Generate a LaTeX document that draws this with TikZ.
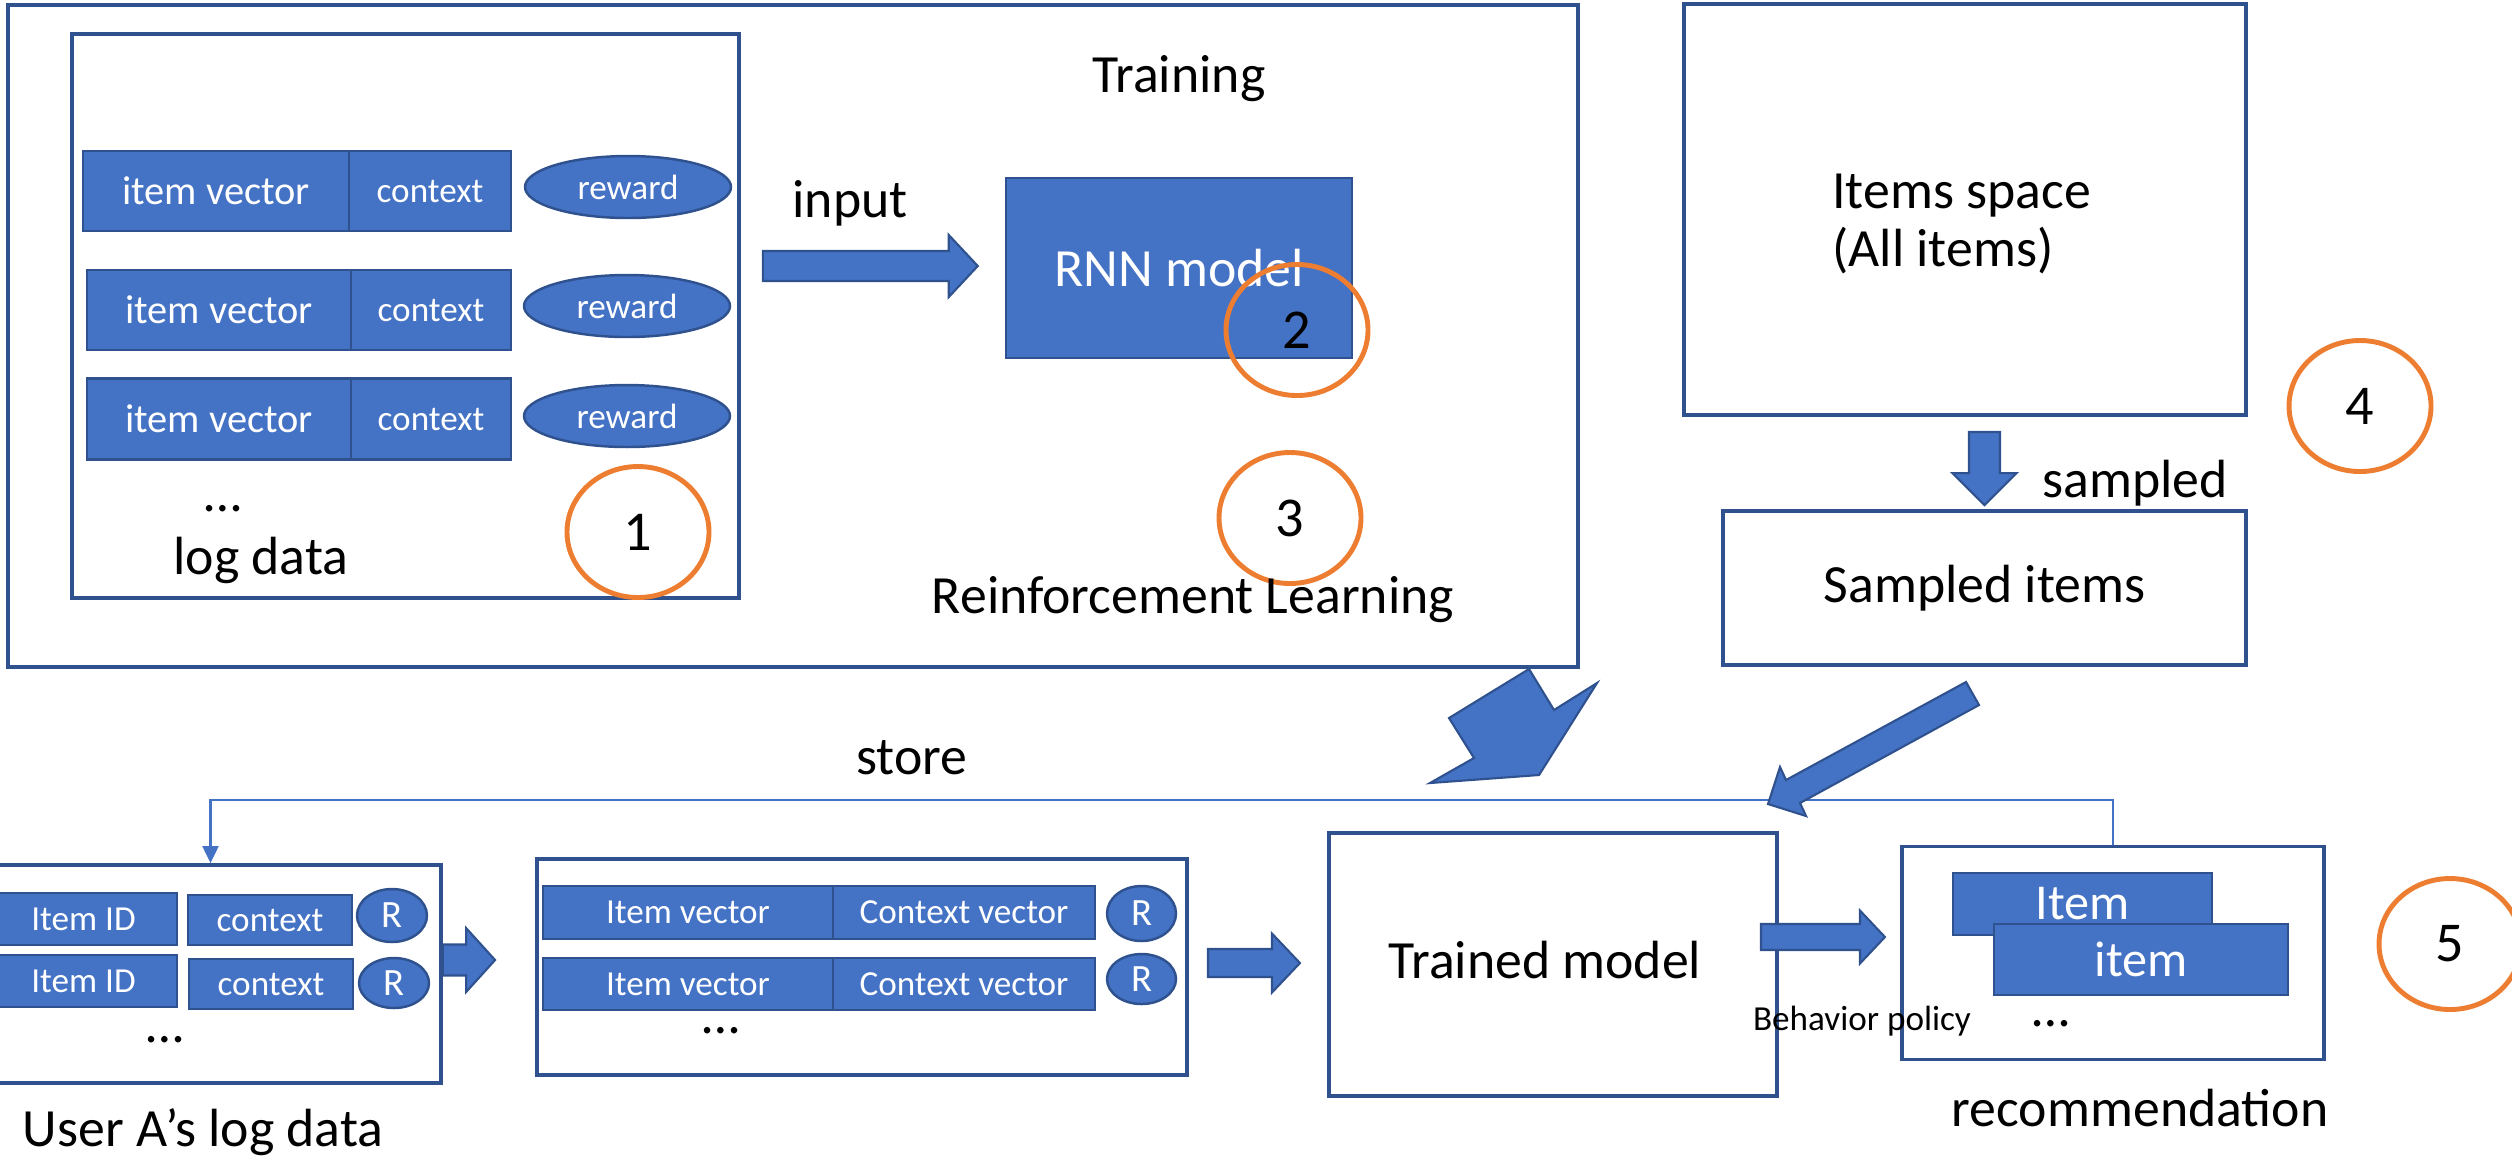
\documentclass[tikz,border=0pt]{standalone}
\usepackage{fontspec}
\setmainfont{Carlito}
\usetikzlibrary{shapes.geometric,calc,arrows.meta}

\definecolor{fillblue}{HTML}{4472C4}
\definecolor{edgeblue}{HTML}{2F528F}
\definecolor{ringorange}{HTML}{ED7D31}

\tikzset{
  frame/.style={draw=edgeblue, line width=1.1pt, inner sep=0pt},
  cell/.style={draw=edgeblue, fill=fillblue, text=white, line width=0.7pt, inner sep=0pt},
  oval/.style={ellipse, draw=edgeblue, fill=fillblue, text=white, line width=0.7pt, inner sep=0pt},
  ring/.style={ellipse, draw=ringorange, line width=1.4pt, minimum width=1.42cm, minimum height=1.31cm, inner sep=0pt, font=\fontsize{16}{18}\selectfont},
  blockarrow/.style={draw=edgeblue, fill=fillblue, line width=0.6pt, line join=miter},
  storeline/.style={draw=fillblue, line width=0.6pt},
  bigtext/.style={font=\fontsize{15.3}{16.5}\selectfont},
  smalltext/.style={font=\fontsize{10}{12}\selectfont},
  dotsnode/.style={font=\fontsize{15.3}{16.5}\selectfont, inner sep=0pt}
}

% fat arrow: from, to, body half width, head half width, head length
\newcommand{\blockarrow}[5]{%
  \coordinate (ba-s) at #1;
  \coordinate (ba-e) at #2;
  \coordinate (ba-h) at ($(ba-e)!#5!(ba-s)$);
  \filldraw[blockarrow] ($(ba-s)!#3!90:(ba-e)$) -- ($(ba-h)!#3!90:(ba-e)$) -- ($(ba-h)!#4!90:(ba-e)$) -- (ba-e)
    -- ($(ba-h)!#4!-90:(ba-e)$) -- ($(ba-h)!#3!-90:(ba-e)$) -- ($(ba-s)!#3!-90:(ba-e)$) -- cycle;}

\begin{document}
\begin{tikzpicture}[x=1cm,y=-1cm]
\useasboundingbox (0,0) rectangle (25.12,11.65);

% training
\node[frame, line width=1.4pt, minimum width=15.70cm, minimum height=6.62cm] (train) at (7.93,3.36) {};
\node[frame, minimum width=6.67cm, minimum height=5.64cm] (logbox) at (4.055,3.16) {};

\node[cell, minimum width=2.66cm, minimum height=0.80cm, font=\fontsize{11.5}{13}\selectfont] (iv1) at (2.16,1.91) {item vector};
\node[cell, minimum width=1.62cm, minimum height=0.80cm, smalltext] (ctx1) at (4.30,1.91) {context};
\node[oval, minimum width=2.06cm, minimum height=0.62cm, smalltext] (rw1) at (6.28,1.87) {reward};

\node[cell, minimum width=2.64cm, minimum height=0.80cm, font=\fontsize{11.5}{13}\selectfont] (iv2) at (2.19,3.10) {item vector};
\node[cell, minimum width=1.60cm, minimum height=0.80cm, smalltext] (ctx2) at (4.31,3.10) {context};
\node[oval, minimum width=2.06cm, minimum height=0.62cm, smalltext] (rw2) at (6.27,3.06) {reward};

\node[cell, minimum width=2.64cm, minimum height=0.81cm, font=\fontsize{11.5}{13}\selectfont] (iv3) at (2.19,4.19) {item vector};
\node[cell, minimum width=1.60cm, minimum height=0.81cm, smalltext] (ctx3) at (4.31,4.19) {context};
\node[oval, minimum width=2.06cm, minimum height=0.62cm, smalltext] (rw3) at (6.27,4.16) {reward};

\node[dotsnode] (dots1) at (2.23,5.09) {…};
\node[bigtext] (logtext) at (2.61,5.60) {log data};
\node[ring] (n1) at (6.38,5.32) {1};

\node[bigtext] (inputtext) at (8.50,2.03) {input};
\node[bigtext] (traintext) at (11.79,0.79) {Training};

\node[cell, minimum width=3.46cm, minimum height=1.80cm, bigtext] (rnn) at (11.79,2.68) {RNN model};
\node[ring] (n2) at (12.97,3.30) {2};
\node[ring] (n3) at (12.90,5.18) {3};
\node[bigtext] (rltext) at (11.93,6.00) {Reinforcement Learning};

\blockarrow{($(logbox.east |- rnn.west)+(0.22,-0.02)$)}{($(rnn.west)+(-0.27,-0.02)$)}{0.15cm}{0.31cm}{0.29cm}

% items
\node[frame, minimum width=5.62cm, minimum height=4.11cm] (items) at (19.65,2.095) {};
\node[bigtext, align=left, anchor=west] (itemstext) at (18.20,2.24) {Items space\\(All items)};
\node[ring] (n4) at (23.60,4.06) {4};

\node[frame, minimum width=5.23cm, minimum height=1.54cm, bigtext] (sampled) at (19.845,5.88) {Sampled items};
\blockarrow{($(sampled.north |- items.south)+(0,0.15)$)}{($(sampled.north)+(0,-0.04)$)}{0.155cm}{0.32cm}{0.32cm}
\node[bigtext] (sampledtext) at (21.35,4.83) {sampled};

% user log
\node[frame, minimum width=4.61cm, minimum height=2.18cm] (ulog) at (2.105,9.74) {};
\node[cell, minimum width=1.87cm, minimum height=0.52cm, smalltext] (id1) at (0.835,9.19) {Item ID};
\node[cell, minimum width=1.64cm, minimum height=0.50cm, smalltext] (uc1) at (2.70,9.20) {context};
\node[oval, minimum width=0.70cm, minimum height=0.53cm, font=\fontsize{11}{13}\selectfont] (r1) at (3.92,9.155) {R};
\node[cell, minimum width=1.87cm, minimum height=0.52cm, smalltext] (id2) at (0.835,9.81) {Item ID};
\node[cell, minimum width=1.64cm, minimum height=0.50cm, smalltext] (uc2) at (2.71,9.84) {context};
\node[oval, minimum width=0.70cm, minimum height=0.50cm, font=\fontsize{11}{13}\selectfont] (r2) at (3.94,9.83) {R};
\node[dotsnode] (dots2) at (1.65,10.40) {…};
\node[bigtext] (usertext) at (2.03,11.32) {User A’s log data};

% vectors
\node[frame, minimum width=6.50cm, minimum height=2.16cm] (vbox) at (8.62,9.67) {};
\node[cell, minimum width=2.90cm, minimum height=0.53cm, smalltext] (vi1) at (6.88,9.125) {Item vector};
\node[cell, minimum width=2.62cm, minimum height=0.53cm, smalltext] (vc1) at (9.64,9.125) {Context vector};
\node[oval, minimum width=0.69cm, minimum height=0.55cm, font=\fontsize{11}{13}\selectfont] (vr1) at (11.415,9.135) {R};
\node[cell, minimum width=2.90cm, minimum height=0.52cm, smalltext] (vi2) at (6.88,9.84) {Item vector};
\node[cell, minimum width=2.62cm, minimum height=0.52cm, smalltext] (vc2) at (9.64,9.84) {Context vector};
\node[oval, minimum width=0.69cm, minimum height=0.50cm, font=\fontsize{11}{13}\selectfont] (vr2) at (11.415,9.79) {R};
\node[dotsnode] (dots3) at (7.21,10.31) {…};

\blockarrow{($(ulog.east)+(0,-0.14)$)}{($(vbox.west |- ulog.east)+(-0.40,-0.14)$)}{0.155cm}{0.32cm}{0.29cm}

% trained model
\node[frame, minimum width=4.48cm, minimum height=2.63cm] (trained) at (15.53,9.645) {};
\node[bigtext] (trainedtext) at (15.45,9.60) {Trained model};
\blockarrow{($(vbox.east)+(0.19,-0.04)$)}{($(vbox.east)+(1.11,-0.04)$)}{0.14cm}{0.295cm}{0.28cm}

% recommendation
\node[frame, minimum width=4.22cm, minimum height=2.13cm] (rec) at (21.13,9.53) {};
\node[cell, minimum width=2.59cm, minimum height=0.62cm, font=\fontsize{14.3}{16}\selectfont] (item1) at (20.825,9.04) {Item};
\node[cell, minimum width=2.94cm, minimum height=0.71cm, font=\fontsize{14.3}{16}\selectfont] (item2) at (21.41,9.595) {item};
\node[dotsnode] (dots4) at (20.51,10.24) {…};
\node[bigtext] (rectext) at (21.40,11.08) {recommendation};
\node[ring] (n5) at (24.50,9.44) {5};

\blockarrow{($(trained.east)+(-0.18,-0.275)$)}{($(trained.east)+(1.06,-0.275)$)}{0.13cm}{0.265cm}{0.25cm}
\node[smalltext] (policytext) at (18.62,10.21) {Behavior policy};

% store
\coordinate (storey) at (0,8.00);
\draw[storeline, -{Triangle[width=0.16cm, length=0.17cm]}] (rec.north) -- (rec.north |- storey) -- (ulog.north |- storey) -- (ulog.north);
\node[bigtext] (storetext) at (9.12,7.58) {store};

% arrows into the trained model
\filldraw[blockarrow] (15.29,6.69) -- (15.54,7.10) -- (15.97,6.83) -- (15.39,7.75) -- (14.30,7.83) -- (14.74,7.58) -- (14.49,7.18) -- cycle;
\filldraw[blockarrow] (19.66,6.82) -- (19.79,7.05) -- (18.00,8.03) -- (18.06,8.16) -- (17.68,8.04) -- (17.80,7.67) -- (17.86,7.80) -- cycle;
\end{tikzpicture}
\end{document}
